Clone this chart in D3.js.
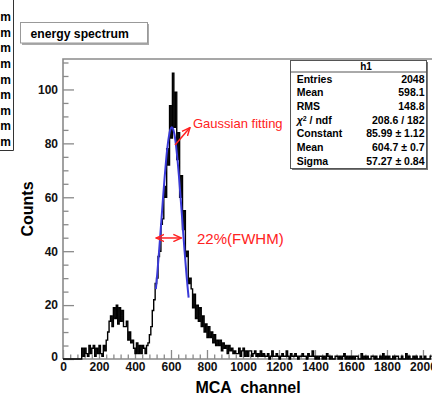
<!DOCTYPE html>
<html><head><meta charset="utf-8">
<script src="https://cdn.jsdelivr.net/npm/d3@7"></script>
<style>
html,body{margin:0;padding:0;background:#fff;}
svg{display:block;font-family:"Liberation Sans",Arial,Helvetica,sans-serif;}
</style>
</head><body>
<svg id="c" width="432" height="397"></svg>
<script>
// ---------------- data ----------------
const binWidth = 8; // channels per bin
const counts = [
  0,0,0,0,0,0,0,0,0,0,0,0,0,
  4,1,4,2,1,5,2,4,5,1,4,2,5,2,1,5,3,
  7,10,14,16,12,19,15,
  20,13,19,14,18,12,
  12,14,7,10,6,7,
  4,2,6,2,5,2,5,4,2,5,6,
  9,12,18,
  22,28,30,38,40,50,52,64,60,78,72,94,82,106,86,99,74,84,60,68,48,55,38,40,28,30,
  26,19,24,15,20,14,19,12,16,10,13,8,12,8,10,6,9,5,7,5,7,3,6,4,5,2,5,3,4,2,3,2,
  2,4,1,3,4,1,3,1,3,3,1,2,3,1,2,1,3,
  1,2,1,1,2,0,1,3,1,1,2,1,0,1,2,1,1,3,1,0,2,1,1,2,1,0,1,1,2,1,1,0,2,1,1,3,1,0,
  1,0,1,1,0,1,0,2,1,0,1,0,0,1,1,0,1,0,1,2,0,1,0,1,
  0,1,0,1,1,0,0,2,0,1,0,1,0,0,1,1,0,1,0,0,1,0,2,0,1,0,1,0,0,1,0,1,1,0,0,1,0,0,2,0,1,0,0,1,0,1,0,0,1,0,0,1,0,0,0,1
];
const fitX = [516,524,532,540,548,556,564,572,580,588,596,604,612,620,628,636,644,652,660,668,676,684,692,698];
const fitY = [25.9,31.9,38.4,45.4,52.7,59.9,66.8,73.1,78.4,82.4,85.0,86.0,85.3,83.0,79.2,74.1,68.0,61.1,54.0,46.7,39.6,33.0,26.9,22.8];
const xTicks = [0,200,400,600,800,1000,1200,1400,1600,1800,2000];
const yTicks = [0,20,40,60,80,100];
const statsTitle = "h1";
const statsLabels = ["Entries","Mean","RMS","chi2","Constant","Mean","Sigma"];
const statsValues = ["2048","598.1","148.8","208.6 / 182","85.99 \u00b1 1.12","604.7 \u00b1 0.7","57.27 \u00b1 0.84"];
const titleText = "energy spectrum";
const xLabel = "MCA  channel";
const yLabel = "Counts";
const sideLetters = ["m","m","m","m","m","m","m","m","m"];
const fitNote = "Gaussian fitting";
const fwhmNote = "22%(FWHM)";
const fwhmRange = [518, 658]; // channels where the FWHM arrow ends
const fwhmLevel = 44.9;

// ---------------- drawing ----------------
const svg = d3.select("#c");
const x = d3.scaleLinear().domain([0, 2048]).range([63, 431.6]);
const y = d3.scaleLinear().domain([0, 111.3]).range([359, 59]);
const frameCol = "#8a8a8a";

// side partial box (top-left)
svg.append("path").attr("d", "M13.5,0 V150.5 H0").attr("fill","none").attr("stroke","#333").attr("stroke-width",1);
svg.selectAll("text.side").data(sideLetters).join("text").attr("class","side")
  .attr("x", 11).attr("y", (d,i)=>16.7 + i*15.63).attr("dy","0.36em")
  .attr("text-anchor","end").attr("font-weight","bold").attr("font-size",12).text(d=>d);

// title box
svg.append("rect").attr("x",22).attr("y",24).attr("width",127).attr("height",21).attr("fill","#aaa");
svg.append("rect").attr("x",20.5).attr("y",22.5).attr("width",127).attr("height",20.5).attr("fill","#fff").attr("stroke","#999").attr("stroke-width",1);
svg.append("text").attr("x",30.5).attr("y",37.5).attr("font-weight","bold").attr("font-size",12.2).text(titleText);

// minor ticks
const xMinor = d3.range(0, 2041, 40).filter(v => v % 200 !== 0);
const yMinor = d3.range(0, 111, 5).filter(v => v % 20 !== 0);
const gx = svg.append("g").attr("transform","translate(0,359)");
gx.call(d3.axisBottom(x).tickValues(xMinor).tickSizeInner(-4.5).tickSizeOuter(0).tickFormat(""));
gx.call(g=>g.select(".domain").remove());
const gx2 = svg.append("g").attr("transform","translate(0,359)");
gx2.call(d3.axisBottom(x).tickValues(xTicks).tickSizeInner(-9).tickSizeOuter(0).tickPadding(3).tickFormat(d3.format("d")));
gx2.call(g=>g.select(".domain").remove());
gx2.selectAll("text").attr("font-weight","bold").attr("font-size",12).attr("font-family","Liberation Sans, Arial, sans-serif").attr("fill","#111");

const gy = svg.append("g").attr("transform","translate(63,0)");
gy.call(d3.axisLeft(y).tickValues(yMinor).tickSizeInner(-5.5).tickSizeOuter(0).tickFormat(""));
gy.call(g=>g.select(".domain").remove());
const gy2 = svg.append("g").attr("transform","translate(63,0)");
gy2.call(d3.axisLeft(y).tickValues(yTicks).tickSizeInner(-11).tickSizeOuter(0).tickPadding(5).tickFormat(d3.format("d")));
gy2.call(g=>g.select(".domain").remove());
gy2.selectAll("text").attr("font-weight","bold").attr("font-size",12).attr("font-family","Liberation Sans, Arial, sans-serif").attr("fill","#111");
gy2.selectAll(".tick").filter(d=>d===0).select("text").attr("dy","0.1em");
svg.selectAll(".tick line").attr("stroke",frameCol).attr("stroke-width",1.3);

// frame
svg.append("path").attr("d",`M${x(0)},${y(0)} V59 H432 M${x(0)},${y(0)} H432`)
  .attr("fill","none").attr("stroke",frameCol).attr("stroke-width",1.6);

// histogram
const pts = counts.map((c,i)=>[i*binWidth, c]);
pts.push([counts.length*binWidth, counts[counts.length-1]]);
const step = d3.line().x(d=>x(d[0])).y(d=>y(d[1])).curve(d3.curveStepAfter);
svg.append("path").attr("d", step(pts)).attr("fill","none").attr("stroke","#000").attr("stroke-width",1.4);

// gaussian fit
const fitLine = d3.line().x((d,i)=>x(fitX[i])).y(d=>y(d)).curve(d3.curveCatmullRom);
svg.append("path").attr("d", fitLine(fitY)).attr("fill","none").attr("stroke","#3a3ad8").attr("stroke-width",2);

// annotations
const red = "#f22";
const defs = svg.append("defs");
defs.append("marker").attr("id","ah").attr("viewBox","0 0 10 10").attr("refX",9).attr("refY",5)
  .attr("markerWidth",6).attr("markerHeight",6).attr("orient","auto-start-reverse")
  .append("path").attr("d","M0,1 L9,5 L0,9").attr("fill","none").attr("stroke",red).attr("stroke-width",1.6);
svg.append("line").attr("x1",175).attr("y1",145).attr("x2",190).attr("y2",127.5)
  .attr("stroke",red).attr("stroke-width",1.5).attr("marker-end","url(#ah)");
svg.append("text").attr("x",193).attr("y",127.5).attr("fill",red).attr("font-size",13).text(fitNote);
svg.append("line").attr("x1",x(fwhmRange[0])).attr("x2",x(fwhmRange[1])).attr("y1",y(fwhmLevel)).attr("y2",y(fwhmLevel))
  .attr("stroke",red).attr("stroke-width",1.5).attr("marker-start","url(#ah)").attr("marker-end","url(#ah)");
svg.append("text").attr("x",197).attr("y",243.5).attr("fill",red).attr("font-size",15).text(fwhmNote);

// stats box
const bx = 290.5, by = 60.5, bw = 136, bh = 108;
svg.append("rect").attr("x",bx+1.5).attr("y",by+1.5).attr("width",bw).attr("height",bh).attr("fill","#777");
svg.append("rect").attr("x",bx).attr("y",by).attr("width",bw).attr("height",bh).attr("fill","#fff").attr("stroke","#555").attr("stroke-width",1);
svg.append("line").attr("x1",bx).attr("x2",bx+bw).attr("y1",72).attr("y2",72).attr("stroke","#555");
svg.append("text").attr("x",366).attr("y",66.5).attr("dy","0.36em").attr("text-anchor","middle")
  .attr("font-weight","bold").attr("font-size",10).text(statsTitle);
const rowY = i => 78.9 + i*13.7;
statsLabels.forEach((lab,i)=>{
  const t = svg.append("text").attr("x",296.7).attr("y",rowY(i)).attr("dy","0.36em")
    .attr("font-weight","bold").attr("font-size",10.5);
  if (lab === "chi2") {
    t.append("tspan").attr("font-style","italic").text("\u03c7");
    t.append("tspan").attr("font-size",7).attr("dy","-0.35em").text("2");
    t.append("tspan").attr("dy","0.25em").text(" / ndf");
  } else t.text(lab);
  svg.append("text").attr("x",424.5).attr("y",rowY(i)).attr("dy","0.36em").attr("text-anchor","end")
    .attr("font-weight","bold").attr("font-size",10.5).text(statsValues[i]);
});

// axis titles
svg.append("text").attr("x",248).attr("y",393).attr("text-anchor","middle").attr("font-weight","bold")
  .attr("font-size",16).style("white-space","pre").text(xLabel);
svg.append("text").attr("transform","translate(33,209) rotate(-90)").attr("text-anchor","middle")
  .attr("font-weight","bold").attr("font-size",16).text(yLabel);
</script>
</body></html>
